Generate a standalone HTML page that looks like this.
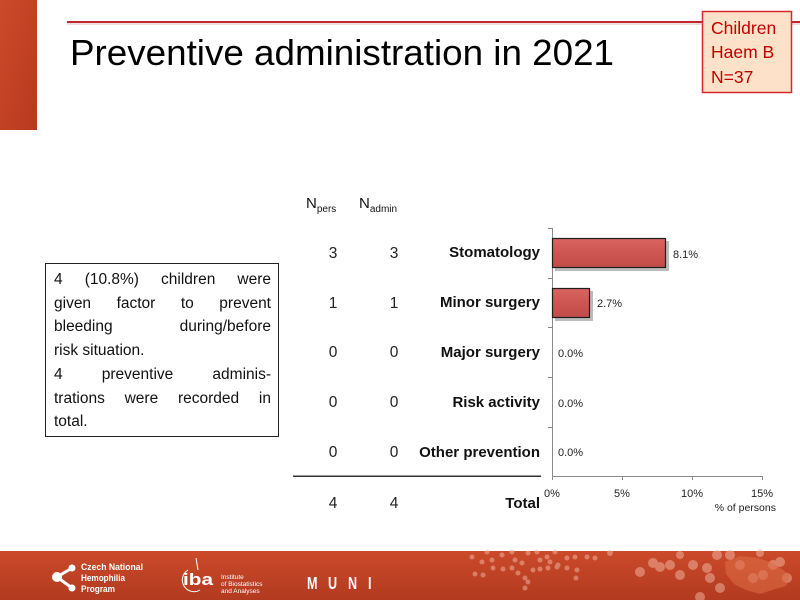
<!DOCTYPE html>
<html><head><meta charset="utf-8">
<style>
html,body{margin:0;padding:0;background:#fff;}
body{width:800px;height:600px;position:relative;overflow:hidden;font-family:"Liberation Sans",sans-serif;}
.tb{position:absolute;left:45px;top:263px;width:234px;height:174px;border:1px solid #222;box-sizing:border-box;padding:4px 7px 0 8px;font-size:15.5px;line-height:23.7px;color:#111;}
.tb div{text-align:justify;text-align-last:justify;white-space:nowrap;}
.tb div.l{text-align:left;text-align-last:left;}
</style></head>
<body>
<svg width="800" height="600" viewBox="0 0 800 600" style="position:absolute;left:0;top:0" xmlns="http://www.w3.org/2000/svg">
<defs>
<linearGradient id="rb" x1="0" y1="0" x2="1" y2="1">
<stop offset="0" stop-color="#cc4a2b"/><stop offset="1" stop-color="#b7391f"/>
</linearGradient>
<linearGradient id="ft" x1="0" y1="0" x2="0" y2="1">
<stop offset="0" stop-color="#cb4a2b"/><stop offset="1" stop-color="#b23a1f"/>
</linearGradient>
<linearGradient id="bar" x1="0" y1="0" x2="0" y2="1">
<stop offset="0" stop-color="#d86560"/><stop offset="0.5" stop-color="#cd5552"/><stop offset="1" stop-color="#c04c49"/>
</linearGradient>
</defs>
<rect x="0" y="0" width="37" height="130" fill="url(#rb)"/>
<rect x="67" y="23" width="733" height="2" fill="#e9c6c6" opacity="0.6"/>
<rect x="67" y="21" width="733" height="2" fill="#c0272d"/>
<text x="70" y="65" font-size="36" textLength="544" lengthAdjust="spacingAndGlyphs" fill="#000">Preventive administration in 2021</text>
<rect x="702.5" y="11.5" width="89" height="81" fill="#fde2c9" stroke="#d42a2a" stroke-width="1.5"/>
<g fill="#c00000" font-size="17.5">
<text x="711" y="34">Children</text>
<text x="711" y="58">Haem B</text>
<text x="711" y="83">N=37</text>
</g>
<g fill="#111" font-size="15">
<text x="306" y="208">N<tspan font-size="10" dy="4">pers</tspan></text>
<text x="359" y="208">N<tspan font-size="10" dy="4">admin</tspan></text>
</g>
<g fill="#222" font-size="15.5" text-anchor="middle">
<text x="333" y="258">3</text><text x="394" y="258">3</text>
<text x="333" y="308">1</text><text x="394" y="308">1</text>
<text x="333" y="357">0</text><text x="394" y="357">0</text>
<text x="333" y="407">0</text><text x="394" y="407">0</text>
<text x="333" y="457">0</text><text x="394" y="457">0</text>
<text x="333" y="508">4</text><text x="394" y="508">4</text>
</g>
<g fill="#111" font-size="15" font-weight="bold" text-anchor="end">
<text x="540" y="257">Stomatology</text>
<text x="540" y="307">Minor surgery</text>
<text x="540" y="357">Major surgery</text>
<text x="540" y="407">Risk activity</text>
<text x="540" y="457">Other prevention</text>
<text x="540" y="508">Total</text>
</g>
<rect x="293" y="475.5" width="248" height="1.5" fill="#333"/>
<g stroke="#8a8a8a" stroke-width="1" fill="none">
<line x1="552.5" y1="228" x2="552.5" y2="477"/>
<line x1="548" y1="228.5" x2="552.5" y2="228.5"/>
<line x1="548" y1="278.5" x2="552.5" y2="278.5"/>
<line x1="548" y1="327.5" x2="552.5" y2="327.5"/>
<line x1="548" y1="377.5" x2="552.5" y2="377.5"/>
<line x1="548" y1="427.5" x2="552.5" y2="427.5"/>
<line x1="552" y1="476.5" x2="763" y2="476.5"/>
<line x1="552.5" y1="476" x2="552.5" y2="480"/>
<line x1="622.5" y1="476" x2="622.5" y2="480"/>
<line x1="692.5" y1="476" x2="692.5" y2="480"/>
<line x1="762.5" y1="476" x2="762.5" y2="480"/>
</g>
<rect x="555" y="241" width="114" height="30" fill="#6a6a6a" opacity="0.45"/>
<rect x="552.5" y="238.5" width="113" height="29" fill="url(#bar)" stroke="#1e1e1e" stroke-width="1.2"/>
<rect x="555" y="291" width="38" height="30" fill="#6a6a6a" opacity="0.45"/>
<rect x="552.5" y="288.5" width="37" height="29" fill="url(#bar)" stroke="#1e1e1e" stroke-width="1.2"/>
<g fill="#222" font-size="11">
<text x="673" y="258">8.1%</text>
<text x="597" y="307">2.7%</text>
<text x="558" y="357">0.0%</text>
<text x="558" y="407">0.0%</text>
<text x="558" y="456">0.0%</text>
</g>
<g fill="#222" font-size="11" text-anchor="middle">
<text x="552" y="497">0%</text>
<text x="622" y="497">5%</text>
<text x="692" y="497">10%</text>
<text x="762" y="497">15%</text>
</g>
<text x="776" y="511" font-size="10.5" fill="#222" text-anchor="end">% of persons</text>
<rect x="0" y="551" width="800" height="49" fill="url(#ft)"/>
<g fill="#f3b9a4" opacity="0.5">
<circle cx="472" cy="557" r="2.5"/><circle cx="487" cy="552" r="2.5"/><circle cx="482" cy="562" r="2.5"/><circle cx="492" cy="560" r="2.5"/>
<circle cx="502" cy="555" r="2.5"/><circle cx="512" cy="552" r="2.5"/><circle cx="515" cy="560" r="2.5"/><circle cx="522" cy="563" r="2.5"/>
<circle cx="528" cy="553" r="2.5"/><circle cx="537" cy="552" r="2.5"/><circle cx="547" cy="557" r="2.5"/><circle cx="555" cy="552" r="2.5"/>
<circle cx="540" cy="560" r="2.5"/><circle cx="550" cy="562" r="2.5"/><circle cx="558" cy="565" r="2.5"/><circle cx="567" cy="558" r="2.5"/>
<circle cx="575" cy="557" r="2.5"/><circle cx="587" cy="557" r="2.5"/><circle cx="595" cy="558" r="2.5"/>
<circle cx="475" cy="574" r="2.5"/><circle cx="483" cy="575" r="2.5"/><circle cx="493" cy="568" r="2.5"/><circle cx="503" cy="569" r="2.5"/>
<circle cx="512" cy="568" r="2.5"/><circle cx="518" cy="573" r="2.5"/><circle cx="525" cy="578" r="2.5"/><circle cx="533" cy="570" r="2.5"/>
<circle cx="540" cy="569" r="2.5"/><circle cx="548" cy="568" r="2.5"/><circle cx="557" cy="567" r="2.5"/><circle cx="567" cy="568" r="2.5"/>
<circle cx="577" cy="570" r="2.5"/><circle cx="576" cy="578" r="2.5"/><circle cx="525" cy="588" r="2.5"/><circle cx="528" cy="582" r="2.5"/>
<circle cx="610" cy="553" r="3"/>
<circle cx="640" cy="572" r="5"/><circle cx="653" cy="563" r="5"/><circle cx="660" cy="567" r="5"/><circle cx="670" cy="565" r="5"/>
<circle cx="680" cy="575" r="5"/><circle cx="693" cy="565" r="5"/><circle cx="707" cy="568" r="5"/><circle cx="710" cy="578" r="5"/>
<circle cx="720" cy="588" r="5"/><circle cx="717" cy="555" r="5"/><circle cx="730" cy="555" r="5"/><circle cx="740" cy="565" r="5"/>
<circle cx="753" cy="578" r="5"/><circle cx="763" cy="575" r="5"/><circle cx="773" cy="565" r="5"/><circle cx="780" cy="562" r="5"/>
<circle cx="787" cy="578" r="5"/><circle cx="700" cy="597" r="5"/><circle cx="680" cy="555" r="4"/><circle cx="760" cy="553" r="4"/>
</g>
<path d="M725,562 L740,556 L758,558 L770,562 L780,568 L790,575 L786,586 L772,590 L760,594 L746,590 L734,584 L726,574 Z" fill="#dc6a45" opacity="0.6"/>
<g fill="#fff" stroke="#fff">
<line x1="57" y1="577" x2="72" y2="568" stroke-width="3"/>
<line x1="57" y1="577" x2="72" y2="588" stroke-width="3"/>
<circle cx="57" cy="577" r="5" stroke="none"/>
<circle cx="72" cy="568" r="3.5" stroke="none"/>
<circle cx="72" cy="588" r="3.5" stroke="none"/>
</g>
<g fill="#fff" font-size="9.5" font-weight="bold">
<text x="81" y="570" textLength="62" lengthAdjust="spacingAndGlyphs">Czech National</text>
<text x="81" y="581" textLength="44" lengthAdjust="spacingAndGlyphs">Hemophilia</text>
<text x="81" y="592" textLength="34" lengthAdjust="spacingAndGlyphs">Program</text>
</g>
<path d="M188,570 A11,11 0 1,0 200,590" fill="none" stroke="#fff" stroke-width="1"/>
<path d="M196,558 L198,570" stroke="#fff" stroke-width="1"/>
<text x="183" y="585" fill="#fff" font-size="17" font-weight="bold" textLength="30" lengthAdjust="spacingAndGlyphs">iba</text>
<g fill="#fff" font-size="6.5">
<text x="221" y="579">Institute</text>
<text x="221" y="586">of Biostatistics</text>
<text x="221" y="593">and Analyses</text>
</g>
<g fill="#fff" font-size="18" font-weight="bold">
<text x="307" y="589" transform="translate(307,0) scale(0.7,1) translate(-307,0)">M</text>
<text x="328" y="589" transform="translate(328,0) scale(0.7,1) translate(-328,0)">U</text>
<text x="348" y="589" transform="translate(348,0) scale(0.7,1) translate(-348,0)">N</text>
<text x="368" y="589" transform="translate(368,0) scale(0.7,1) translate(-368,0)">I</text>
</g>
</svg>
<div class="tb">
<div>4 (10.8%) children were</div>
<div>given factor to prevent</div>
<div>bleeding during/before</div>
<div class="l">risk situation.</div>
<div>4 preventive adminis-</div>
<div>trations were recorded in</div>
<div class="l">total.</div>
</div>
</body></html>
